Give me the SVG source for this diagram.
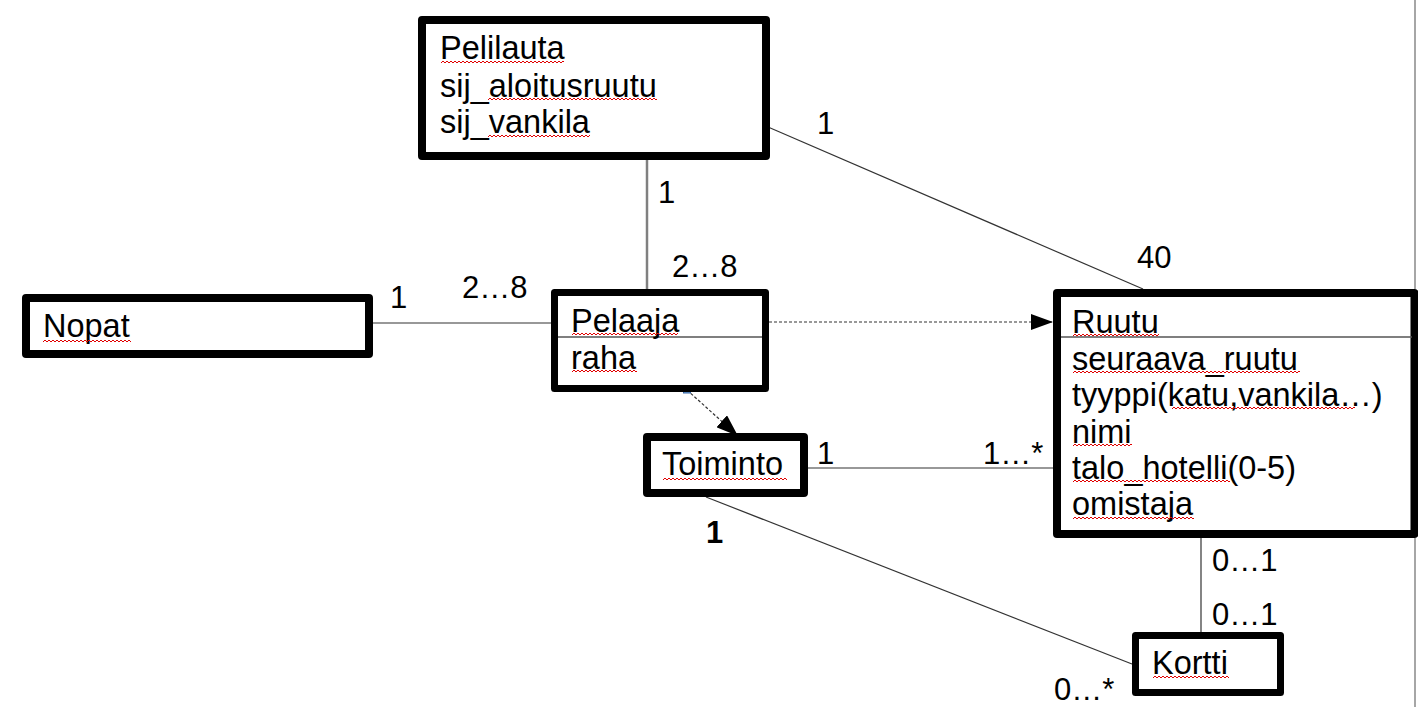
<svg xmlns="http://www.w3.org/2000/svg" width="1418" height="707" viewBox="0 0 1418 707">
  <style>
    .box { fill: #ffffff; stroke: #000000; stroke-width: 8; stroke-linejoin: round; }
    .div { stroke: #555555; stroke-width: 1.5; }
    .t { font-family: "Liberation Sans", Arial, sans-serif; font-size: 32.5px; fill: #000000; }
    .lbl { font-family: "Liberation Sans", Arial, sans-serif; font-size: 31px; fill: #000000; }
    .lblb { font-family: "Liberation Sans", Arial, sans-serif; font-size: 31px; font-weight: bold; fill: #000000; }
    .ln { stroke: #333333; stroke-width: 1.2; fill: none; }
    .lng { stroke: #808080; stroke-width: 2.5; fill: none; }
    .dash { stroke: #333333; stroke-width: 1.2; stroke-dasharray: 3 2; fill: none; }
    .sq { fill: url(#wave); }
    .handle { fill: #729fcf; stroke: #3465a4; stroke-width: 1; }
  </style>
  <defs>
    <pattern id="wave" patternUnits="userSpaceOnUse" x="0" y="0" width="4" height="4">
      <path d="M0,3 L2,1 L4,3" fill="none" stroke="#e00000" stroke-width="1"/>
    </pattern>
    <marker id="arr" markerUnits="userSpaceOnUse" markerWidth="22" markerHeight="16" refX="22" refY="8" orient="auto" viewBox="0 0 22 16">
      <path d="M0,0 L22,8 L0,16 z" fill="#000000"/>
    </marker>
  </defs>

  <rect x="0" y="0" width="1418" height="707" fill="#ffffff"/>
  <line x1="1415" y1="0" x2="1415" y2="707" stroke="#a6a6a6" stroke-width="2"/>

  <g id="connectors">
    <line class="lng" x1="647" y1="160" x2="647" y2="289"/>
    <line class="ln" x1="768" y1="127" x2="1143" y2="289"/>
    <line class="ln" x1="373" y1="323" x2="551" y2="323"/>
    <line class="dash" x1="769" y1="322" x2="1053" y2="322" marker-end="url(#arr)"/>
    <line class="dash" x1="687" y1="390" x2="738" y2="436" marker-end="url(#arr)"/>
    <line class="ln" x1="808" y1="468" x2="1053" y2="468"/>
    <line class="ln" x1="706" y1="497" x2="1132" y2="664"/>
    <line class="ln" x1="1201" y1="538" x2="1201" y2="632"/>
    <rect class="handle" x="683.5" y="386" width="7" height="7"/>
    <rect class="handle" x="737" y="435" width="6" height="6"/>
  </g>

  <g id="labels">
    <text class="lbl" x="817" y="134">1</text>
    <text class="lbl" x="658" y="203">1</text>
    <text class="lbl" x="672" y="277">2…8</text>
    <text class="lbl" x="1137" y="268">40</text>
    <text class="lbl" x="390" y="308">1</text>
    <text class="lbl" x="462" y="298">2…8</text>
    <text class="lbl" x="817" y="464">1</text>
    <text class="lbl" x="983" y="464">1…*</text>
    <text class="lblb" x="706" y="543">1</text>
    <text class="lbl" x="1212" y="571">0…1</text>
    <text class="lbl" x="1212" y="625">0…1</text>
    <text class="lbl" x="1054" y="700">0…*</text>
  </g>

  <g id="pelilauta">
    <rect class="box" x="422" y="20" width="344" height="136"/>
    <text class="t" x="440" y="59">Pelilauta</text>
    <text class="t" x="440" y="97">sij_aloitusruutu</text>
    <text class="t" x="440" y="133">sij_vankila</text>
    <rect class="sq" x="0" y="0" width="123" height="4" transform="translate(441,60)"/>
    <rect class="sq" x="0" y="0" width="169" height="4" transform="translate(488,97)"/>
    <rect class="sq" x="0" y="0" width="102" height="4" transform="translate(488,134)"/>
  </g>

  <g id="nopat">
    <rect class="box" x="26" y="298" width="343" height="56"/>
    <text class="t" x="43" y="337">Nopat</text>
    <rect class="sq" x="0" y="0" width="88" height="4" transform="translate(43,339)"/>
  </g>

  <g id="pelaaja">
    <rect class="box" x="554.5" y="292.5" width="211" height="96" style="stroke-width:7"/>
    <line class="div" x1="558" y1="337" x2="762" y2="337"/>
    <text class="t" x="571" y="332">Pelaaja</text>
    <text class="t" x="571" y="369">raha</text>
    <rect class="sq" x="0" y="0" width="106" height="4" transform="translate(572,332)"/>
    <rect class="sq" x="0" y="0" width="65" height="4" transform="translate(572,369)"/>
  </g>

  <g id="toiminto">
    <rect class="box" x="647" y="437" width="157" height="56"/>
    <text class="t" x="662" y="475">Toiminto</text>
    <rect class="sq" x="0" y="0" width="124" height="4" transform="translate(663,477)"/>
  </g>

  <g id="ruutu">
    <rect class="box" x="1057" y="293" width="357.5" height="241"/>
    <line class="div" x1="1061" y1="337" x2="1412" y2="337"/>
    <text class="t" x="1072" y="333">Ruutu</text>
    <text class="t" x="1072" y="370">seuraava_ruutu</text>
    <text class="t" x="1072" y="406">tyyppi(katu,vankila…)</text>
    <text class="t" x="1072" y="443">nimi</text>
    <text class="t" x="1072" y="479">talo_hotelli(0-5)</text>
    <text class="t" x="1072" y="515">omistaja</text>
    <rect class="sq" x="0" y="0" width="86" height="4" transform="translate(1073,333)"/>
    <rect class="sq" x="0" y="0" width="227" height="4" transform="translate(1073,370)"/>
    <rect class="sq" x="0" y="0" width="183" height="4" transform="translate(1172,406)"/>
    <rect class="sq" x="0" y="0" width="59" height="4" transform="translate(1073,443)"/>
    <rect class="sq" x="0" y="0" width="157" height="4" transform="translate(1073,479)"/>
    <rect class="sq" x="0" y="0" width="121" height="4" transform="translate(1073,516)"/>
  </g>

  <g id="kortti">
    <rect class="box" x="1135.5" y="635.5" width="145" height="57" style="stroke-width:7"/>
    <text class="t" x="1152" y="674">Kortti</text>
    <rect class="sq" x="0" y="0" width="76" height="4" transform="translate(1153,675)"/>
  </g>
</svg>
